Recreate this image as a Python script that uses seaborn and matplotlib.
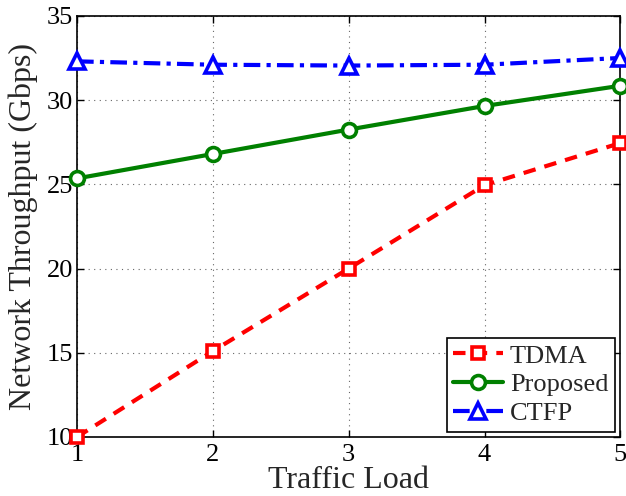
import matplotlib
matplotlib.use("Agg")
import matplotlib.pyplot as plt
import seaborn as sns
import pandas as pd

traffic_load = [1, 2, 3, 4, 5]
tdma = [10.0, 15.1, 20.0, 24.95, 27.45]
proposed = [25.35, 26.8, 28.25, 29.65, 30.85]
ctfp = [32.3, 32.1, 32.05, 32.1, 32.5]

sns.set_style("ticks")
plt.rcParams["font.family"] = ["Liberation Serif", "DejaVu Serif"]
plt.rcParams["mathtext.fontset"] = "stix"

fig = plt.figure(figsize=(6.26, 4.96), dpi=100)
ax = fig.add_axes([0.123, 0.119, 0.868, 0.849])

series = [
    ("TDMA", tdma, "#ff0000", (0, (3, 2.2)), "s", 9),
    ("Proposed", proposed, "#008000", "-", "o", 10),
    ("CTFP", ctfp, "#0000ff", (0, (4, 1.5, 1, 1.5)), "^", 11),
]

for name, vals, col, ls, mk, ms in series:
    df = pd.DataFrame({"load": traffic_load, "thr": vals})
    sns.lineplot(data=df, x="load", y="thr", ax=ax, color=col, linestyle=ls,
                 linewidth=3, marker=mk, markersize=ms, markerfacecolor="white",
                 markeredgecolor=col, markeredgewidth=2.6, label=name,
                 clip_on=False, zorder=3)

ax.set_xlim(1, 5)
ax.set_ylim(10, 35)
ax.set_xticks([1, 2, 3, 4, 5])
ax.set_yticks([10, 15, 20, 25, 30, 35])
ax.grid(True, color="#666666", linestyle=(0, (1, 4)), linewidth=0.8)
ax.tick_params(direction="in", length=5, width=1, labelsize=19, colors="black",
               top=True, right=True)
ax.tick_params(axis="x", pad=5)
ax.tick_params(axis="y", pad=3)
for s in ax.spines.values():
    s.set_linewidth(1.2)
    s.set_color("black")
    s.set_visible(True)

ax.set_xlabel("Traffic Load", fontsize=23, labelpad=0)
ax.set_ylabel("Network Throughput (Gbps)", fontsize=23, labelpad=6)

leg = ax.legend(loc="lower right", fontsize=19, frameon=True, fancybox=False,
                edgecolor="black", handlelength=1.9, handletextpad=0.25,
                labelspacing=0.2, borderpad=0.25, borderaxespad=0.2)
leg.get_frame().set_linewidth(1.2)
leg.get_frame().set_alpha(1)

fig.savefig("out.png", dpi=100)
